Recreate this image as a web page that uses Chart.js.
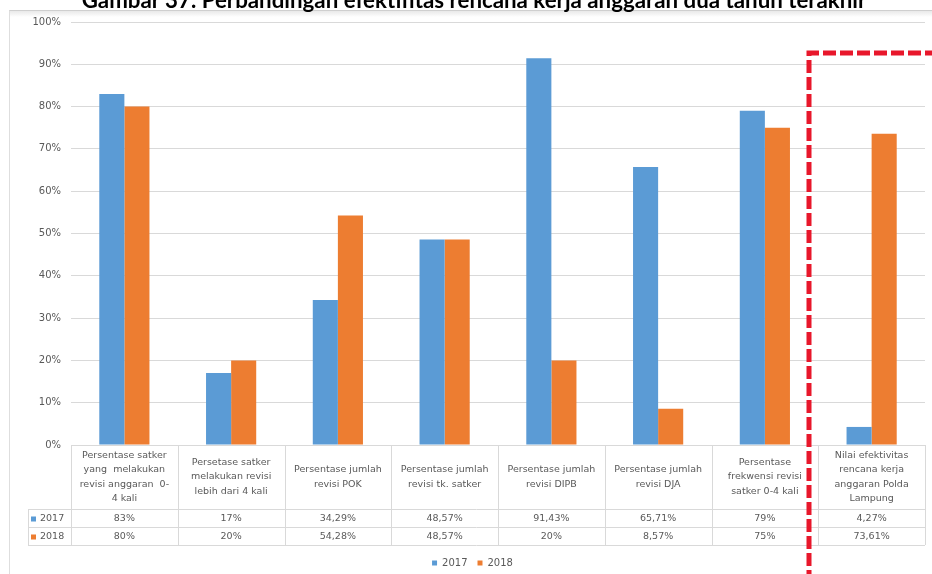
<!DOCTYPE html>
<html>
<head>
<meta charset="utf-8">
<script src="https://cdn.jsdelivr.net/npm/chart.js@4/dist/chart.umd.min.js"></script>
<style>
  html, body { margin: 0; padding: 0; background: #fff; }
  #wrap { position: relative; width: 932px; height: 574px; overflow: hidden; }
  #frame {
    position: absolute; left: 9px; top: 10px; width: 940px; height: 580px;
    border-top: 1px solid #cfcfcf; border-left: 1px solid #dedede;
    background: linear-gradient(#e9e9e9, #ffffff 6px);
  }
  #title {
    position: absolute; left: 8px; width: 932px; top: -11px; text-align: center;
    font: bold 22.3px Lato, "Liberation Sans", sans-serif; line-height: 22px; color: #000;
    white-space: nowrap;
  }
  #chart { position: absolute; left: 0; top: 0; }
</style>
</head>
<body>
<div id="wrap">
  <div id="frame"></div>
  <canvas id="chart" width="932" height="578"></canvas>
  <div id="title">Gambar 37. Perbandingan efektifitas rencana kerja anggaran dua tahun terakhir</div>
</div>
<script>
var categories = [
  ['Persentase satker', 'yang  melakukan', 'revisi anggaran  0-', '4 kali'],
  ['Persetase satker', 'melakukan revisi', 'lebih dari 4 kali'],
  ['Persentase jumlah', 'revisi POK'],
  ['Persentase jumlah', 'revisi tk. satker'],
  ['Persentase jumlah', 'revisi DIPB'],
  ['Persentase jumlah', 'revisi DJA'],
  ['Persentase', 'frekwensi revisi', 'satker 0-4 kali'],
  ['Nilai efektivitas', 'rencana kerja', 'anggaran Polda', 'Lampung']
];
var seriesNames = ['2017', '2018'];
var values2017 = [83, 17, 34.29, 48.57, 91.43, 65.71, 79, 4.27];
var values2018 = [80, 20, 54.28, 48.57, 20, 8.57, 75, 73.61];
var yTicks = [0, 10, 20, 30, 40, 50, 60, 70, 80, 90, 100];

var blue = '#5b9bd5';
var orange = '#ed7d31';
var textGray = '#595959';
var lineGray = '#d9d9d9';
var fontFamily = '"DejaVu Sans", Verdana, sans-serif';
var smallFont = '9.5px ' + fontFamily;

function pct(v) {
  return String(v).replace('.', ',') + '%';
}

// category labels + data table under the x axis, drawn from the x scale
var dataTable = {
  id: 'dataTable',
  afterLayout: function(chart) {
    // legend sits a little right of centre in the original
    chart.legend.left += 10;
    chart.legend.right += 10;
  },
  afterDraw: function(chart) {
    var ctx = chart.ctx;
    var xs = chart.scales.x;
    var ys = chart.scales.y;
    var top = Math.round(ys.bottom);
    var labelBottom = top + 64;
    var rowH = 18;
    var left = 28;
    var right = Math.round(xs.right);

    ctx.save();
    ctx.strokeStyle = lineGray;
    ctx.lineWidth = 1;
    ctx.beginPath();
    for (var r = 0; r < 3; r++) {
      var yy = labelBottom + r * rowH + 0.5;
      ctx.moveTo(left, yy);
      ctx.lineTo(right, yy);
    }
    for (var i = 0; i <= categories.length; i++) {
      var xx = Math.round(xs.getPixelForValue(i - 0.5)) + 0.5;
      ctx.moveTo(xx, top);
      ctx.lineTo(xx, labelBottom + 2 * rowH);
    }
    ctx.moveTo(left + 0.5, labelBottom);
    ctx.lineTo(left + 0.5, labelBottom + 2 * rowH);
    ctx.stroke();

    ctx.font = smallFont;
    ctx.fillStyle = textGray;
    ctx.textAlign = 'center';
    ctx.textBaseline = 'middle';
    var lh = 14.4;
    categories.forEach(function(lines, i) {
      var cx = xs.getPixelForValue(i);
      var y0 = (top + labelBottom) / 2 - (lines.length - 1) * lh / 2;
      lines.forEach(function(t, k) {
        ctx.fillText(t, cx, y0 + k * lh);
      });
      ctx.fillText(pct(values2017[i]), cx, labelBottom + rowH / 2 + 1);
      ctx.fillText(pct(values2018[i]), cx, labelBottom + rowH * 1.5 + 1);
    });

    // row headers
    ctx.textAlign = 'left';
    [blue, orange].forEach(function(c, r) {
      var cy = labelBottom + rowH * (r + 0.5) + 1;
      ctx.fillStyle = c;
      ctx.fillRect(31, cy - 2.5, 5, 5);
      ctx.fillStyle = textGray;
      ctx.fillText(seriesNames[r], 40, cy);
    });

    // red dashed highlight around the last category
    var bx = Math.round(xs.getPixelForValue(6.5)) - 9;
    var by = Math.round(ys.getPixelForValue(93)) + 1;
    ctx.strokeStyle = '#e8172b';
    ctx.lineWidth = 5;
    ctx.setLineDash([13, 4]);
    ctx.beginPath();
    ctx.moveTo(bx, chart.height + 5);
    ctx.lineTo(bx, by);
    ctx.lineTo(chart.width + 5, by);
    ctx.stroke();
    ctx.restore();
  }
};

new Chart(document.getElementById('chart'), {
  type: 'bar',
  data: {
    labels: categories.map(function(c) { return c.join(' '); }),
    datasets: [
      { label: seriesNames[0], data: values2017, backgroundColor: blue, borderWidth: 0 },
      { label: seriesNames[1], data: values2018, backgroundColor: orange, borderWidth: 0 }
    ]
  },
  options: {
    responsive: false,
    animation: false,
    layout: { padding: { top: 22, right: 7, left: 0, bottom: 0 } },
    datasets: { bar: { categoryPercentage: 0.47, barPercentage: 1.0 } },
    scales: {
      x: {
        grid: { display: false },
        border: { color: lineGray },
        ticks: { display: false },
        afterFit: function(s) { s.height = 103; }
      },
      y: {
        min: 0,
        max: 100,
        afterFit: function(s) { s.width = 71; },
        afterBuildTicks: function(s) { s.ticks = yTicks.map(function(v) { return { value: v }; }); },
        grid: { color: lineGray, drawTicks: false },
        border: { display: false },
        ticks: {
          padding: 10,
          color: textGray,
          font: { family: fontFamily, size: 10 },
          callback: function(v) { return v + '%'; }
        }
      }
    },
    plugins: {
      legend: {
        position: 'bottom',
        labels: {
          boxWidth: 5,
          boxHeight: 5,
          padding: 10,
          color: textGray,
          font: { family: fontFamily, size: 10 }
        }
      },
      tooltip: { enabled: false }
    }
  },
  plugins: [dataTable]
});
</script>
</body>
</html>
